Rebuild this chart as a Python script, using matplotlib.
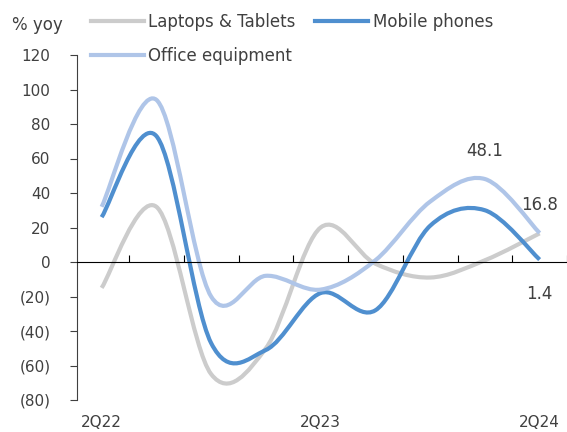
import numpy as np
import matplotlib
matplotlib.use('Agg')
import matplotlib.pyplot as plt
from matplotlib.path import Path
from matplotlib.patches import PathPatch
from matplotlib.lines import Line2D
from matplotlib.ticker import FuncFormatter

quarters = ['2Q22', '3Q22', '4Q22', '1Q23', '2Q23', '3Q23', '4Q23', '1Q24', '2Q24']
laptops = [-15, 32, -65, -50, 20, -1, -9, 1, 16.6]
mobile = [26, 73, -47, -51, -18, -28, 21, 30, 1.4]
office = [32, 94, -20, -8, -16, 1, 35, 48.1, 16.8]

c_lap = '#CCCCCC'
c_mob = '#4F8FCF'
c_off = '#AFC5E8'
txt = '#404040'

plt.rcParams['font.family'] = ['DejaVu Sans']
plt.rcParams['font.size'] = 11


def smooth_path(x, y):
    # excel-like smoothed line: cubic bezier through each point
    p = np.column_stack([x, y]).astype(float)
    n = len(p)
    verts = [p[0]]
    codes = [Path.MOVETO]
    for i in range(n - 1):
        p0 = p[i - 1] if i > 0 else p[i]
        p3 = p[i + 2] if i + 2 < n else p[i + 1]
        c1 = p[i] + (p[i + 1] - p0) / 6
        c2 = p[i + 1] - (p3 - p[i]) / 6
        verts += [c1, c2, p[i + 1]]
        codes += [Path.CURVE4] * 3
    return Path(verts, codes)


fig = plt.figure(figsize=(5.67, 4.32), dpi=100)
ax = fig.add_axes([77 / 567, 32 / 432, 490 / 567, 345 / 432])

x = np.arange(len(quarters))
for vals, col in [(laptops, c_lap), (mobile, c_mob), (office, c_off)]:
    ax.add_patch(PathPatch(smooth_path(x, vals), facecolor='none',
                           edgecolor=col, lw=3, capstyle='butt'))

ax.set_xlim(-0.45, 8.36)
ax.set_ylim(-80, 120)
ax.set_yticks(range(-80, 121, 20))
ax.yaxis.set_major_formatter(FuncFormatter(
    lambda v, _: f'({abs(int(v))})' if v < 0 else f'{int(v)}'))

for s in ['top', 'right']:
    ax.spines[s].set_visible(False)
ax.spines['left'].set_color('#404040')
ax.spines['bottom'].set_position(('data', 0))
ax.spines['bottom'].set_color('black')
ax.tick_params(axis='y', direction='out', length=5, colors='#404040',
               labelcolor=txt, labelsize=11, pad=14)
ax.set_xticks(np.arange(0.5, len(quarters), 1))
ax.set_xticklabels([])
ax.tick_params(axis='x', direction='in', length=5, colors='black')

sec = ax.secondary_xaxis(0)
sec.set_xticks([0, 4, 8], [quarters[0], quarters[4], quarters[8]])
sec.tick_params(length=0, labelcolor=txt, labelsize=11, pad=11)
sec.spines['bottom'].set_visible(False)

ax.annotate('48.1', (7, office[7]), xytext=(0, 14), textcoords='offset points',
            ha='center', va='bottom', color=txt, fontsize=12)
ax.annotate('16.8', (8, office[8]), xytext=(0, 14), textcoords='offset points',
            ha='center', va='bottom', color=txt, fontsize=12)
ax.annotate('1.4', (8, mobile[8]), xytext=(0, -18), textcoords='offset points',
            ha='center', va='top', color=txt, fontsize=12)

fig.text(12 / 567, 1 - 25 / 432, '% yoy', ha='left', va='center', color=txt, fontsize=12)

handles = [Line2D([], [], color=c_lap, lw=3),
           Line2D([], [], color=c_off, lw=3),
           Line2D([], [], color=c_mob, lw=3)]
labels = ['Laptops & Tablets', 'Office equipment', 'Mobile phones']
leg = fig.legend(handles, labels, ncol=2, loc='upper left',
                 bbox_to_anchor=(91 / 567, 1 - 13 / 432), frameon=False,
                 fontsize=12, handlelength=3.2, handletextpad=0.25,
                 columnspacing=1.15, labelspacing=0.95, borderaxespad=0,
                 borderpad=0)
for t in leg.get_texts():
    t.set_color(txt)

fig.savefig('out.png', dpi=100)
